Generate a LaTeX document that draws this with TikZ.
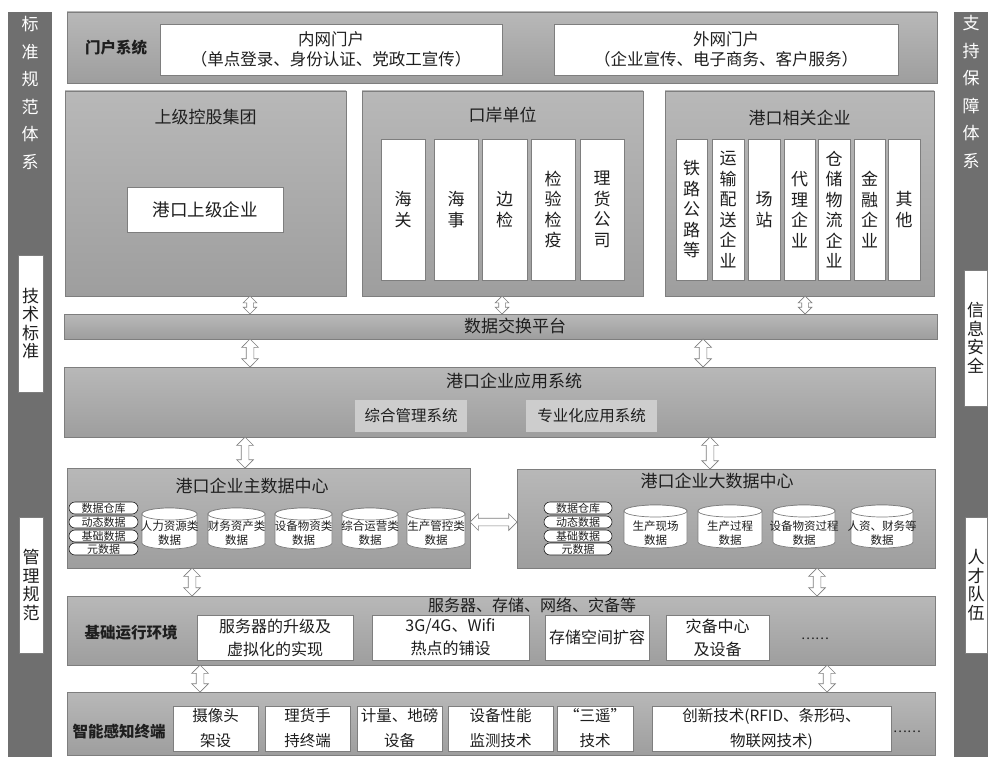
\documentclass[tikz,border=0pt]{standalone}
\usepackage{fontspec}
\setmainfont{Noto Sans CJK SC}
\usetikzlibrary{shapes.arrows}
\definecolor{side}{HTML}{6F6F6F}
\definecolor{gT}{HTML}{B8B8B8}
\definecolor{gB}{HTML}{9E9E9E}
\definecolor{edge}{HTML}{7E7E7E}
\definecolor{ink}{HTML}{1E1E1E}
\definecolor{lbox}{HTML}{CDCDCD}
\newcommand\fs[2]{\fontsize{#1}{#2}\selectfont}
\newcommand\bx[7]{\node[#6, minimum width={(#4-#2)*1pt}, minimum height={(#5-#3)*1pt}] (#1) at ({(#2+#4)/2},{(#3+#5)/2}) {#7};}
\newcommand\cyl[7]{%
  \pgfmathsetmacro\cyX{(#2+#4)/2}\pgfmathsetmacro\cyR{(#4-#2)/2}%
  \draw[cylst] (#2,#3+6) -- (#2,#5-6) arc[start angle=180,end angle=0,x radius=\cyR,y radius=6] -- (#4,#3+6) arc[start angle=0,end angle=-180,x radius=\cyR,y radius=6] -- cycle;
  \draw[cylst] (\cyX,#3+6) ellipse[x radius=\cyR,y radius=6];
  \node[cyltx] (#1) at (\cyX,{(#3+#5)/2+#6}) {#7};}
\tikzset{
  outer/.style={draw=edge, line width=0.8pt, top color=gT, bottom color=gB, inner sep=0pt},
  sidebar/.style={fill=side, draw=none, inner sep=0pt},
  wbox/.style={draw=edge, fill=white, line width=0.7pt, align=center, inner sep=1pt, text=ink},
  lboxst/.style={draw=none, fill=lbox, align=center, inner sep=1pt, text=ink, font=\fs{15.5}{18}},
  vcol/.style={wbox, font=\fs{17}{20.5}},
  sidetx/.style={align=center, text=white, font=\fs{17}{27.5}},
  sidebox/.style={wbox, font=\fs{17}{18.5}},
  ttl/.style={text=ink, font=\fs{17}{20}},
  lbl/.style={text=ink, font=\fs{15.5}{18}\bfseries},
  pill/.style={draw=ink, fill=white, line width=0.6pt, rounded corners=6pt, inner sep=0pt, text=ink, font=\fs{11}{11}},
  cylst/.style={draw=edge, fill=white, line width=0.7pt},
  cyltx/.style={align=center, text=ink, font=\fs{11.5}{14}},
  dblarr/.style={double arrow, draw=edge, fill=white, line width=0.7pt, inner xsep=0pt, inner ysep=3.5pt, double arrow head extend=4.5pt},
  smarr/.style={double arrow, draw=edge, fill=white, line width=0.7pt, inner xsep=0pt, inner ysep=3pt, double arrow head extend=3.5pt},
  twob/.style={wbox, font=\fs{16}{23}},
  twot/.style={wbox, font=\fs{15.5}{25}}
}
\begin{document}
\begin{tikzpicture}[x=1pt,y=-1pt]
\useasboundingbox (0,0) rectangle (988,757);
\fill[white] (0,0) rectangle (988,757);
% side bars
\bx{lbar}{8}{12}{52}{757}{sidebar}{}
\node[sidetx] (ltitle) at (30,93) {标\\准\\规\\范\\体\\系};
\bx{lb1}{18}{255}{43}{392}{sidebox}{技\\术\\标\\准}
\bx{lb2}{19}{517}{43}{653}{sidebox}{管\\理\\规\\范}
\bx{rbar}{954}{12}{988}{757}{sidebar}{}
\node[sidetx] (rtitle) at (971,92) {支\\持\\保\\障\\体\\系};
\bx{rb1}{964}{270}{987}{406}{sidebox}{信\\息\\安\\全}
\bx{rb2}{965}{517}{987}{653}{sidebox}{人\\才\\队\\伍}
% portal
\bx{portal}{67}{12}{937}{83}{outer}{}
\node[lbl] (plbl) at (116,48) {门户系统};
\bx{p1}{160}{24}{502}{75}{wbox,font=\fs{16.5}{20}}{内网门户\\（单点登录、身份认证、党政工宣传）}
\bx{p2}{554}{24}{898}{75}{wbox,font=\fs{16.5}{20}}{外网门户\\（企业宣传、电子商务、客户服务）}
% row 2
\bx{g1}{65}{91}{346}{296}{outer}{}
\node[ttl] (g1t) at (205.5,117) {上级控股集团};
\bx{g1a}{127}{187}{283}{232}{wbox,font=\fs{17.5}{20}}{港口上级企业}
\bx{g2}{362}{91}{643}{296}{outer}{}
\node[ttl] (g2t) at (502.5,115) {口岸单位};
\bx{c1}{381}{139}{425}{280}{vcol}{海\\关}
\bx{c2}{434}{139}{478}{280}{vcol}{海\\事}
\bx{c3}{482}{139}{527}{280}{vcol}{边\\检}
\bx{c4}{531}{139}{575}{280}{vcol}{检\\验\\检\\疫}
\bx{c5}{580}{139}{624}{280}{vcol}{理\\货\\公\\司}
\bx{g3}{665}{91}{934}{296}{outer}{}
\node[ttl] (g3t) at (799.5,118) {港口相关企业};
\bx{d1}{676}{139}{707}{280}{vcol}{铁\\路\\公\\路\\等}
\bx{d2}{712}{139}{744}{280}{vcol}{运\\输\\配\\送\\企\\业}
\bx{d3}{748}{139}{780}{280}{vcol}{场\\站}
\bx{d4}{784}{139}{815}{280}{vcol}{代\\理\\企\\业}
\bx{d5}{818}{139}{850}{280}{vcol}{仓\\储\\物\\流\\企\\业}
\bx{d6}{854}{139}{885}{280}{vcol}{金\\融\\企\\业}
\bx{d7}{888}{139}{920}{280}{vcol}{其\\他}
% data exchange
\bx{dx}{64}{314}{937}{339}{outer}{}
\node[ttl] (dxt) at (515,326) {数据交换平台};
% app system
\bx{app}{64}{367}{935}{437}{outer}{}
\node[ttl] (appt) at (514,381) {港口企业应用系统};
\bx{app1}{355}{400}{467}{432}{lboxst}{综合管理系统}
\bx{app2}{526}{400}{657}{432}{lboxst}{专业化应用系统}
% main data center
\bx{dc1}{67}{468}{470}{568}{outer}{}
\node[ttl] (dc1t) at (252,486) {港口企业主数据中心};
\bx{q1}{69}{502}{138}{514}{pill}{数据仓库}
\bx{q2}{69}{516}{138}{528}{pill}{动态数据}
\bx{q3}{69}{530}{138}{542}{pill}{基础数据}
\bx{q4}{69}{543}{138}{555}{pill}{元数据}
\cyl{k1}{142}{508}{197}{549}{5}{人力资源类\\数据}
\cyl{k2}{208}{508}{265}{549}{5}{财务资产类\\数据}
\cyl{k3}{275}{508}{332}{549}{5}{设备物资类\\数据}
\cyl{k4}{342}{508}{398}{549}{5}{综合运营类\\数据}
\cyl{k5}{407}{508}{465}{549}{5}{生产管控类\\数据}
% big data center
\bx{dc2}{517}{469}{935}{568}{outer}{}
\node[ttl] (dc2t) at (717,481) {港口企业大数据中心};
\bx{r1}{544}{502}{612}{514}{pill}{数据仓库}
\bx{r2}{544}{516}{612}{528}{pill}{动态数据}
\bx{r3}{544}{530}{612}{542}{pill}{基础数据}
\bx{r4}{544}{543}{612}{555}{pill}{元数据}
\cyl{m1}{624}{505}{687}{548}{7}{生产现场\\数据}
\cyl{m2}{698}{505}{762}{548}{7}{生产过程\\数据}
\cyl{m3}{773}{505}{835}{548}{7}{设备物资过程\\数据}
\cyl{m4}{851}{505}{913}{548}{7}{人资、财务等\\数据}
% base environment
\bx{be}{67}{596}{935}{665}{outer}{}
\node[lbl] (bel) at (131,633) {基础运行环境};
\node[ttl,font=\fs{16}{18}] (bet) at (532,605) {服务器、存储、网络、灾备等};
\bx{e1}{197}{615}{353}{660}{twob}{服务器的升级及\\虚拟化的实现}
\bx{e2}{372}{615}{529}{660}{twob}{3G/4G、Wifi\\热点的铺设}
\bx{e3}{545}{615}{649}{660}{twob}{存储空间扩容}
\bx{e4}{666}{615}{769}{660}{twob}{灾备中心\\及设备}
\node[ttl,font=\fs{13}{14}] (edots) at (815,639) {……};
% terminals
\bx{te}{67}{692}{935}{755}{outer}{}
\node[lbl] (tel) at (119,732) {智能感知终端};
\bx{f1}{173}{706}{258}{751}{twot}{摄像头\\架设}
\bx{f2}{265}{706}{350}{751}{twot}{理货手\\持终端}
\bx{f3}{357}{706}{442}{751}{twot}{计量、地磅\\设备}
\bx{f4}{448}{706}{553}{751}{twot}{设备性能\\监测技术}
\bx{f5}{557}{706}{633}{751}{twot}{“三遥”\\技术}
\bx{f6}{652}{706}{891}{751}{twot}{创新技术(RFID、条形码、\\物联网技术)}
\node[ttl,font=\fs{13}{14}] (fdots) at (907,732) {……};
% arrows
\node[smarr, rotate=90, minimum height=18pt] (a1) at (250,305) {};
\node[smarr, rotate=90, minimum height=18pt] (a2) at (502,305) {};
\node[smarr, rotate=90, minimum height=18pt] (a3) at (805,305) {};
\node[dblarr, rotate=90, minimum height=28pt] (a4) at (250,353) {};
\node[dblarr, rotate=90, minimum height=28pt] (a5) at (703,353) {};
\node[dblarr, rotate=90, minimum height=31pt] (a6) at (245,452.5) {};
\node[dblarr, rotate=90, minimum height=32pt] (a7) at (710,453) {};
\node[dblarr, minimum height=47pt] (a8) at (493.5,522) {};
\node[dblarr, rotate=90, minimum height=28pt] (a9) at (192,582) {};
\node[dblarr, rotate=90, minimum height=28pt] (a10) at (817,582) {};
\node[dblarr, rotate=90, minimum height=27pt] (a11) at (200,678.5) {};
\node[dblarr, rotate=90, minimum height=27pt] (a12) at (827,678.5) {};
\end{tikzpicture}
\end{document}
